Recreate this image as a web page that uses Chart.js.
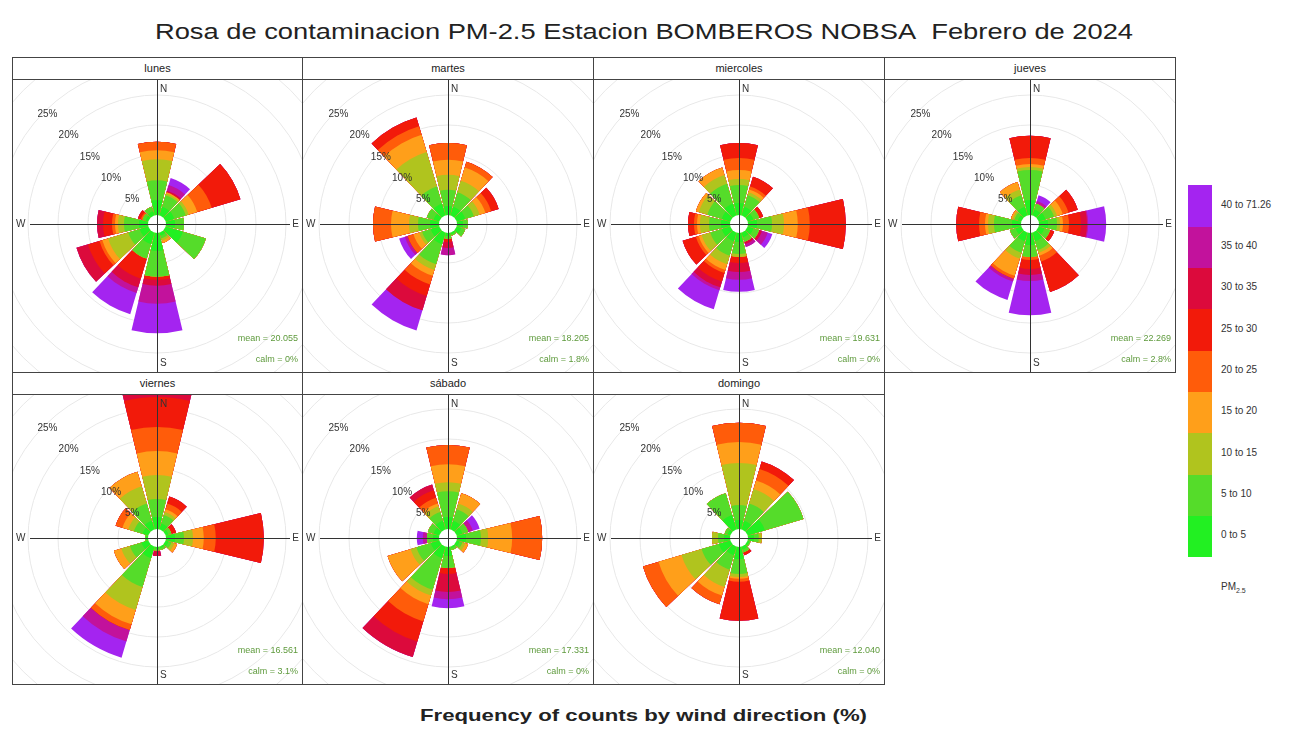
<!DOCTYPE html>
<html>
<head>
<meta charset="utf-8">
<script src="https://cdn.jsdelivr.net/npm/chart.js@4.4.1/dist/chart.umd.min.js"></script>
<style>
body{margin:0;background:#fff;font-family:"Liberation Sans",Arial,sans-serif;color:#222}
#page{position:relative;width:1313px;height:740px;overflow:hidden}
.txt{position:absolute;white-space:nowrap;transform-origin:0 50%}
.head{position:absolute;box-sizing:border-box;border:1px solid #444;text-align:center;font-size:11px;line-height:20px;background:#fff;color:#222}
.plot{position:absolute;box-sizing:border-box;border:1px solid #444;overflow:hidden;background:#fff}
.plot canvas{position:absolute}
.key{position:absolute;width:24px}
.klab{position:absolute;font-size:10px;color:#333;white-space:nowrap}
</style>
</head>
<body>
<div id="page">
  <div id="title" class="txt" style="left:155px;top:19px;font-size:22px">Rosa de contaminacion PM-2.5 Estacion BOMBEROS NOBSA&nbsp;&nbsp;Febrero de 2024</div>
  <div id="xlab" class="txt" style="left:420px;top:706px;font-size:17px;font-weight:bold">Frequency of counts by wind direction (%)</div>
</div>
<script>
// panel names and stats
const days = ["lunes", "martes", "miercoles", "jueves", "viernes", "sábado", "domingo"];
const means = ["20.055", "18.205", "19.631", "22.269", "16.561", "17.331", "12.040"];
const calms = ["0%", "1.8%", "0%", "2.8%", "3.1%", "0%", "0%"];

// PM2.5 bins (legend)
const binLabels = ["0 to 5", "5 to 10", "10 to 15", "15 to 20", "20 to 25", "25 to 30", "30 to 35", "35 to 40", "40 to 71.26"];
const binColors = ["#22f022", "#55dc2a", "#b0c41e", "#ff9f1a", "#ff5c0a", "#f21a0a", "#dc0a3c", "#c2129c", "#a424f0"];

// frequency rings (%)
const gridValues = [5, 10, 15, 20, 25, 30];
const ringLabels = [5, 10, 15, 20, 25];

// % of counts per bin, 12 sectors from N clockwise (0,30,...,330 deg)
const lunes = [
  [2.5, 3.3, 3.5, 1.5, 1.4], [1.5, 2, 0.3, 0.2, 0, 0, 0.3, 1.0, 1.2], [1.5, 2, 0.5, 1.5, 2.5, 5],
  [1.5, 1.5], [3, 4], [0.5, 0.5, 0.4, 0.4],
  [3, 4.3, 0, 0, 0, 0.5, 1, 3, 4.9], [2, 2.5, 0, 0, 0, 3.5, 1.5, 1, 3.7], [1.5, 2, 3.5, 1, 0.5, 2, 2],
  [1.5, 2.5, 1, 0.5, 0.5, 1.5, 1], [0.5, 0.5, 0, 0, 0.3, 0.5], [0.7, 0.8]
];
const martes = [
  [1.5, 2.7, 2.5, 2.5, 2.8], [1.5, 2.5, 2, 2.3, 1], [1.5, 1.5, 1, 1, 1, 1.3],
  [1, 0.8], [0.8, 0.7], [0.3, 0.2],
  [0.5, 0.5, 0, 0, 0, 0.5, 1, 1.2], [2, 3.5, 1, 1, 1.5, 2, 2.5, 0, 3.5], [1.5, 1.5, 0.5, 1, 1, 0, 0, 0.5, 1],
  [1.5, 2, 1.5, 3, 3], [1, 1.2], [2, 3, 6, 3, 1.5, 1.5]
];
const miercoles = [
  [2, 3, 1, 1.5, 2, 2.5], [1.5, 2, 0.5, 0.5, 0.5, 1.7], [1, 1, 0, 0, 0, 0.7],
  [1.5, 2.5, 2, 2.3, 2, 6], [1, 1, 0, 0, 0, 0, 0.5, 1, 0.8], [0.8, 0.8, 0, 0, 0, 0, 0.4, 0.5],
  [1.5, 2, 0.5, 0, 0, 1, 1.5, 1.3, 2], [1.5, 2.5, 1.5, 1, 0.5, 1.5, 1, 0.5, 3.3], [1.5, 2, 1.5, 0.5, 0.5, 2.3],
  [1.5, 2, 1.5, 0.5, 0.5, 1], [1.5, 2.5, 1.5, 0.5], [2, 3.5, 1.5, 1.3]
];
const jueves = [
  [2.5, 5, 0.5, 0.5, 1, 3.7], [1, 1, 0, 0, 0, 0, 0, 0.5, 1], [1.2, 1.5, 0.5, 1, 1, 1.6],
  [1.5, 1.5, 0.5, 0.5, 1, 2, 1, 0.2, 3], [1, 1, 0, 0, 0, 0.7], [1.5, 1.5, 0.5, 0.5, 1, 5.3],
  [2, 2, 0, 0, 0.5, 1.5, 1, 1, 5.7], [1.5, 2, 1, 3, 0.5, 0, 0, 0.5, 3.2], [1, 1],
  [1.5, 3, 1, 0.5, 1, 3.8], [0.6, 0.6, 0.3, 0.3], [1.5, 2, 1, 1.3]
];
const viernes = [
  [2, 3, 4, 4, 4, 5, 1], [1, 1.5, 0.5, 0.5, 1, 1.2], [0.5, 0.5, 0, 0, 0, 0.8],
  [1.5, 1.5, 1.5, 1.8, 2, 8], [0.5, 0.5, 0.5, 0.5], [0.3, 0.3],
  [0.3, 0.3, 0, 0, 0, 0, 0.9], [2, 5, 4, 2.5, 1, 0, 0, 2, 2.8], [1.2, 2, 1.5, 1.3],
  [0.3, 0.2], [1, 1.5, 1, 1, 1.2], [1.5, 3, 3, 2.5]
];
const sabado = [
  [2, 4.3, 1.5, 3, 3.2], [1.5, 2, 1, 1.8], [1, 1, 0, 0, 0, 0, 0, 0.8, 1.2],
  [1.5, 2.5, 1.2, 4, 5], [0.5, 0.5, 0.5, 0.5], [0.3, 0.3],
  [1.5, 2, 0, 0, 0, 1, 3, 1.2, 1.5], [2, 5.5, 1, 1.5, 3, 3.5, 2.7], [1.5, 2.5, 1, 4],
  [1, 1, 0, 0, 0, 0, 0, 0.7, 1], [1, 1], [1.5, 1.5, 1, 0.5, 1, 1.3, 1]
];
const domingo = [
  [1.5, 2.5, 7, 3.5, 3.2], [1.5, 3, 2.5, 1.5, 2, 1.3], [3, 6.7],
  [1, 0.8, 0.5], [0.3, 0.2], [0.5, 0.5, 0, 0, 0, 0.5],
  [2, 2.5, 0.5, 0.3, 0.5, 6.5], [1.5, 2.5, 3, 1.5, 1.5], [2, 3, 3.5, 4, 2.7],
  [1, 1, 1], [0.5, 0.5], [2.5, 3.8]
];
const roses = [lunes, martes, miercoles, jueves, viernes, sabado, domingo];

// layout
const colEdges = [12, 302, 593, 884, 1175];
const headTop = [57, 372];
const plotTop = [79, 394];
const plotBottom = [372, 684];
const centerY = [224, 538];
const R = 159; // canvas half size -> 6px per %
const wedgeDeg = 27, gapDeg = 3;

const page = document.getElementById("page");

// fit title widths to the picture
function fitText(id, w) {
  const el = document.getElementById(id);
  el.style.transform = "scaleX(" + (w / el.getBoundingClientRect().width) + ")";
}
fitText("title", 978);
fitText("xlab", 447);

// colour key
const keyTop = 185, keyH = 372 / binColors.length;
binColors.forEach((c, k) => {
  const y = keyTop + (binColors.length - 1 - k) * keyH;
  const d = document.createElement("div");
  d.className = "key";
  d.style.cssText = `left:1188px;top:${y}px;height:${keyH + 0.5}px;background:${c}`;
  page.appendChild(d);
  const l = document.createElement("div");
  l.className = "klab";
  l.style.cssText = `left:1221px;top:${y + keyH / 2 - 7}px`;
  l.textContent = binLabels[k];
  page.appendChild(l);
});
const pm = document.createElement("div");
pm.className = "klab";
pm.style.cssText = "left:1221px;top:581px";
pm.innerHTML = "PM<sub style='font-size:7px'>2.5</sub>";
page.appendChild(pm);

// decorations on each rose: hole, cross, labels, stats
const roseDecor = {
  id: "roseDecor",
  afterDatasetsDraw(chart, args, o) {
    const s = chart.scales.r, ctx = chart.ctx;
    const cx = s.xCenter, cy = s.yCenter;
    ctx.save();
    ctx.fillStyle = "#fff";
    ctx.beginPath();
    ctx.arc(cx, cy, s.getDistanceFromCenterForValue(0), 0, Math.PI * 2);
    ctx.fill();

    ctx.strokeStyle = "#333";
    ctx.lineWidth = 1;
    ctx.beginPath();
    ctx.moveTo(o.x0 + 17, cy + 0.5);
    ctx.lineTo(o.x1 - 12, cy + 0.5);
    ctx.moveTo(cx + 0.5, o.y0);
    ctx.lineTo(cx + 0.5, o.y1);
    ctx.stroke();

    ctx.fillStyle = "#333";
    ctx.font = '10px "Liberation Sans", Arial, sans-serif';
    ctx.textBaseline = "middle";
    ctx.textAlign = "left";
    ctx.fillText("N", cx + 3, o.y0 + 9);
    ctx.fillText("S", cx + 3, o.y1 - 9);
    ctx.fillText("W", o.x0 + 3, cy);
    ctx.textAlign = "right";
    ctx.fillText("E", o.x1 - 3, cy);

    ctx.textAlign = "center";
    ringLabels.forEach(v => {
      const d = s.getDistanceFromCenterForValue(v) - 4;
      ctx.fillText(v + "%", cx - d * 0.7071, cy - d * 0.7071);
    });

    ctx.fillStyle = "#5e9a3c";
    ctx.font = '9px "Liberation Sans", Arial, sans-serif';
    ctx.textAlign = "right";
    ctx.fillText("mean = " + o.mean, o.x1 - 4, o.y1 - 33);
    ctx.fillText("calm = " + o.calm, o.x1 - 4, o.y1 - 12);
    ctx.restore();
  }
};

function buildDatasets(dirs) {
  return binColors.map((col, k) => ({
    label: binLabels[k],
    data: dirs.flatMap(b => [b.slice(0, k + 1).reduce((a, v) => a + v, 0), 0]),
    backgroundColor: col,
    borderWidth: 0,
    angle: c => (c.dataIndex % 2 === 0 ? wedgeDeg : gapDeg)
  }));
}

days.forEach((name, i) => {
  const col = i % 4, row = Math.floor(i / 4);
  const L = colEdges[col], Rt = colEdges[col + 1];
  const w = Rt - L + 1;

  const head = document.createElement("div");
  head.className = "head";
  head.style.cssText = `left:${L}px;top:${headTop[row]}px;width:${w}px;height:${plotTop[row] - headTop[row] + 1}px`;
  head.textContent = name;
  page.appendChild(head);

  const plot = document.createElement("div");
  plot.className = "plot";
  plot.style.cssText = `left:${L}px;top:${plotTop[row]}px;width:${w}px;height:${plotBottom[row] - plotTop[row] + 1}px`;
  page.appendChild(plot);

  const cx = Math.round((L + Rt) / 2), cy = centerY[row];
  const cvLeft = cx - R, cvTop = cy - R;
  const cv = document.createElement("canvas");
  cv.width = 2 * R;
  cv.height = 2 * R;
  cv.style.left = (cvLeft - L - 1) + "px";
  cv.style.top = (cvTop - plotTop[row] - 1) + "px";
  plot.appendChild(cv);

  const labels = roses[i].flatMap((_, j) => [String(j * 30), ""]);

  new Chart(cv, {
    type: "polarArea",
    data: { labels: labels, datasets: buildDatasets(roses[i]) },
    options: {
      responsive: false,
      animation: false,
      events: [],
      plugins: {
        legend: { display: false },
        tooltip: { enabled: false },
        roseDecor: {
          x0: L + 1 - cvLeft, x1: Rt - cvLeft,
          y0: plotTop[row] + 1 - cvTop, y1: plotBottom[row] - cvTop,
          mean: means[i], calm: calms[i]
        }
      },
      scales: {
        r: {
          min: -1.5,
          max: 25,
          startAngle: -wedgeDeg / 2,
          ticks: { display: false },
          grid: { color: "#e8e8e8" },
          angleLines: { display: false },
          pointLabels: { display: false },
          afterBuildTicks: sc => { sc.ticks = gridValues.map(v => ({ value: v })); }
        }
      }
    },
    plugins: [roseDecor]
  });
});
</script>
</body>
</html>
